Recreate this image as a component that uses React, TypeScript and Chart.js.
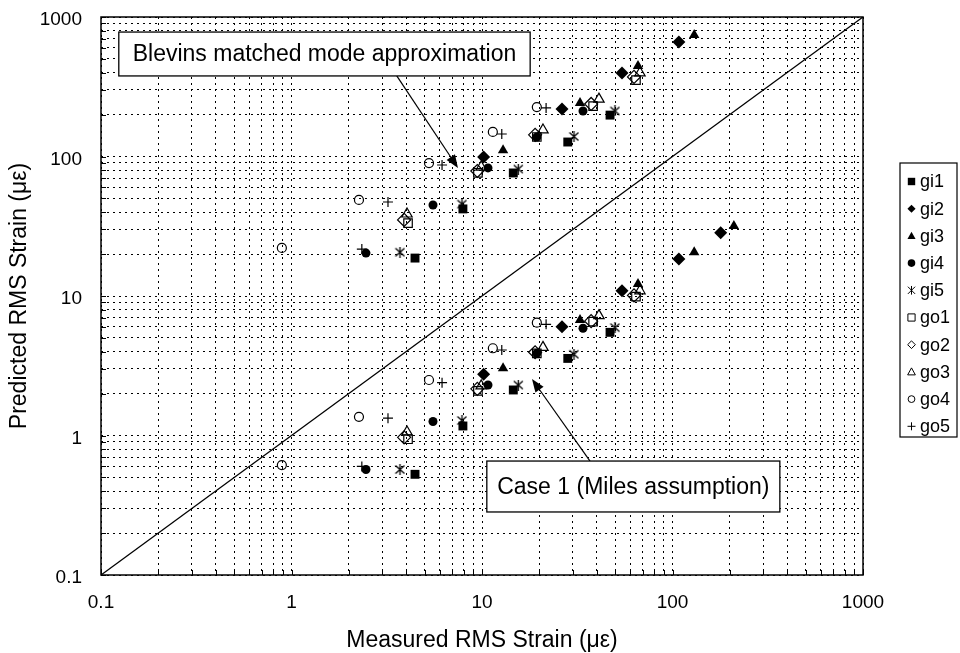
import React, { useEffect, useRef } from 'react';
import { Chart, registerables } from 'chart.js';

Chart.register(...registerables);

const FONT = 'Arial, "Liberation Sans", Helvetica, sans-serif';

// ---------- data ----------
const seriesNames = ['gi1', 'gi2', 'gi3', 'gi4', 'gi5', 'go1', 'go2', 'go3', 'go4', 'go5'];

const gi1Measured = [4.45, 7.94, 14.6, 28.2, 47.0];
const gi1Blevins = [18.7, 42.1, 76.2, 127, 198];
const gi1Miles = [0.527, 1.17, 2.12, 3.57, 5.49];

const gi2Measured = [10.2, 26.3, 54.3, 108, 179];
const gi2Blevins = [99.1, 219, 397, 662, null];
const gi2Miles = [2.75, 6.03, 10.9, 18.4, 28.4];

const gi3Measured = [12.9, 32.7, 65.9, 130, 210];
const gi3Blevins = [111, 242, 446, 743, null];
const gi3Miles = [3.03, 6.73, 12.2, 20.6, 31.8];

const gi4Measured = [2.46, 5.53, 10.75, 19.4, 33.9];
const gi4Blevins = [20.3, 44.9, 82.8, 138, 212];
const gi4Miles = [0.57, 1.26, 2.3, 3.88, 5.87];

const gi5Measured = [3.71, 7.85, 15.5, 30.4, 49.9];
const gi5Blevins = [20.6, 45.6, 81.3, 139, 212];
const gi5Miles = [0.57, 1.28, 2.3, 3.82, 5.93];

const go1Measured = [4.09, 9.52, 19.4, 38.3, 64.3];
const go1Blevins = [33.3, 76.2, 138, 230, 353];
const go1Miles = [0.94, 2.09, 3.88, 6.55, 9.89];

const go2Measured = [3.9, 9.45, 19.0, 37.4, 62.8];
const go2Blevins = [35.1, 78.7, 143, 238, 372];
const go2Miles = [0.97, 2.16, 3.95, 6.6, 10.1];

const go3Measured = [4.04, 9.9, 20.9, 41.1, 67.5];
const go3Blevins = [38.7, 84, 155, 258, 397];
const go3Miles = [1.06, 2.27, 4.28, 7.23, 10.9];

const go4Measured = [0.89, 2.26, 5.27, 11.4, 19.4];
const go4Blevins = [22.1, 48.8, 89.7, 150, 226];
const go4Miles = [0.614, 1.36, 2.5, 4.22, 6.44];

const go5Measured = [2.34, 3.21, 6.17, 12.7, 21.7];
const go5Blevins = [21.7, 47.2, 86.9, 145, 223];
const go5Miles = [0.6, 1.33, 2.39, 4.1, 6.27];

const xAxisTitle = 'Measured RMS Strain (με)';
const yAxisTitle = 'Predicted RMS Strain (με)';
const majorTickValues = [0.1, 1, 10, 100, 1000];
const minorMultipliers = [1, 2, 3, 4, 5, 6, 7, 8, 9];
const equalityLine = [0.1, 1000];

const blevinsLabel = 'Blevins matched mode approximation';
const blevinsBox = { x0: 0.124, x1: 17.9, y0: 780, y1: 378 };
const blevinsArrow = { fromX: 3.57, fromY: 378, toX: 7.48, toY: 82.8 };

const milesLabel = 'Case 1 (Miles assumption)';
const milesBox = { x0: 10.6, x1: 366, y0: 0.656, y1: 0.283 };
const milesArrow = { fromX: 36.9, fromY: 0.656, toX: 18.3, toY: 2.54 };

// ---------- helpers ----------
function makeAsterisk(size: number) {
  const c = document.createElement('canvas');
  c.width = size;
  c.height = size;
  const g = c.getContext('2d')!;
  g.strokeStyle = '#000';
  g.lineWidth = 1.3;
  g.beginPath();
  g.moveTo(1, 1.5); g.lineTo(size - 1, size - 1.5);
  g.moveTo(size - 1, 1.5); g.lineTo(1, size - 1.5);
  g.moveTo(size / 2, 0); g.lineTo(size / 2, size);
  g.stroke();
  return c;
}

function drawLegendMarker(ctx: CanvasRenderingContext2D, style: string, filled: boolean, x: number, y: number, r: number) {
  ctx.save();
  ctx.fillStyle = '#000';
  ctx.strokeStyle = '#000';
  ctx.lineWidth = 1;
  ctx.beginPath();
  if (style === 'rect') {
    ctx.rect(x - r, y - r, 2 * r, 2 * r);
  } else if (style === 'rectRot') {
    ctx.moveTo(x, y - r * 1.1); ctx.lineTo(x + r * 1.1, y); ctx.lineTo(x, y + r * 1.1); ctx.lineTo(x - r * 1.1, y); ctx.closePath();
  } else if (style === 'triangle') {
    ctx.moveTo(x, y - r * 1.15); ctx.lineTo(x + r * 1.1, y + r * 0.85); ctx.lineTo(x - r * 1.1, y + r * 0.85); ctx.closePath();
  } else if (style === 'circle') {
    ctx.arc(x, y, r, 0, Math.PI * 2);
  } else if (style === 'asterisk') {
    ctx.moveTo(x - r, y - r); ctx.lineTo(x + r, y + r);
    ctx.moveTo(x + r, y - r); ctx.lineTo(x - r, y + r);
    ctx.moveTo(x, y - r * 1.2); ctx.lineTo(x, y + r * 1.2);
    ctx.stroke(); ctx.restore(); return;
  } else if (style === 'cross') {
    ctx.moveTo(x - r, y); ctx.lineTo(x + r, y);
    ctx.moveTo(x, y - r); ctx.lineTo(x, y + r);
    ctx.stroke(); ctx.restore(); return;
  }
  if (filled) ctx.fill(); else ctx.stroke();
  ctx.restore();
}

function buildTicks() {
  const out: number[] = [];
  for (let i = 0; i < majorTickValues.length - 1; i++) {
    for (const m of minorMultipliers) out.push(parseFloat((majorTickValues[i] * m).toPrecision(4)));
  }
  out.push(majorTickValues[majorTickValues.length - 1]);
  return out;
}

function isMajor(v: number) {
  return majorTickValues.some((m) => Math.abs(m - v) / m < 1e-6);
}

export default function App() {
  const canvasRef = useRef<HTMLCanvasElement | null>(null);

  useEffect(() => {
    const asterisk = makeAsterisk(11);
    const styleTable: { style: any; legendStyle: string; filled: boolean; radius: number; legendR: number }[] = [
      { style: 'rect', legendStyle: 'rect', filled: true, radius: 6.3, legendR: 3.7 },
      { style: 'rectRot', legendStyle: 'rectRot', filled: true, radius: 6.5, legendR: 3.7 },
      { style: 'triangle', legendStyle: 'triangle', filled: true, radius: 6, legendR: 3.7 },
      { style: 'circle', legendStyle: 'circle', filled: true, radius: 4.5, legendR: 3.8 },
      { style: asterisk, legendStyle: 'asterisk', filled: false, radius: 5, legendR: 3.6 },
      { style: 'rect', legendStyle: 'rect', filled: false, radius: 6, legendR: 3.6 },
      { style: 'rectRot', legendStyle: 'rectRot', filled: false, radius: 6.5, legendR: 3.5 },
      { style: 'triangle', legendStyle: 'triangle', filled: false, radius: 6, legendR: 3.5 },
      { style: 'circle', legendStyle: 'circle', filled: false, radius: 4.5, legendR: 3.4 },
      { style: 'cross', legendStyle: 'cross', filled: false, radius: 5, legendR: 4 },
    ];
    const measured = [gi1Measured, gi2Measured, gi3Measured, gi4Measured, gi5Measured, go1Measured, go2Measured, go3Measured, go4Measured, go5Measured];
    const blevins = [gi1Blevins, gi2Blevins, gi3Blevins, gi4Blevins, gi5Blevins, go1Blevins, go2Blevins, go3Blevins, go4Blevins, go5Blevins];
    const miles = [gi1Miles, gi2Miles, gi3Miles, gi4Miles, gi5Miles, go1Miles, go2Miles, go3Miles, go4Miles, go5Miles];

    const datasets: any[] = seriesNames.map((name, i) => {
      const pts: { x: number; y: number }[] = [];
      measured[i].forEach((mx, k) => {
        const b = blevins[i][k];
        if (b != null) pts.push({ x: mx, y: b });
        pts.push({ x: mx, y: miles[i][k] });
      });
      const st = styleTable[i];
      return {
        type: 'scatter',
        label: name,
        data: pts,
        pointStyle: st.style,
        pointRadius: st.radius,
        pointBorderWidth: st.filled ? 0 : 1.2,
        pointBackgroundColor: st.filled ? '#000' : 'rgba(0,0,0,0)',
        pointBorderColor: '#000',
        showLine: false,
      };
    });
    datasets.push({
      type: 'line',
      label: 'y=x',
      data: equalityLine.map((v) => ({ x: v, y: v })),
      borderColor: '#000',
      borderWidth: 1.3,
      pointRadius: 0,
      fill: false,
    });

    const ticksList = buildTicks();

    const framePlugin = {
      id: 'frame',
      afterDatasetsDraw(chart: any) {
        const { ctx, scales } = chart;
        const xs = scales.x, ys = scales.y;
        ctx.save();
        ctx.strokeStyle = '#000';
        ctx.fillStyle = '#000';
        ctx.lineWidth = 1.2;
        const arrow = (a: any) => {
          const x0 = xs.getPixelForValue(a.fromX), y0 = ys.getPixelForValue(a.fromY);
          const x1 = xs.getPixelForValue(a.toX), y1 = ys.getPixelForValue(a.toY);
          const ang = Math.atan2(y1 - y0, x1 - x0);
          const hl = 13, hw = 5;
          ctx.beginPath();
          ctx.moveTo(x0, y0);
          ctx.lineTo(x1 - Math.cos(ang) * hl * 0.8, y1 - Math.sin(ang) * hl * 0.8);
          ctx.stroke();
          ctx.beginPath();
          ctx.moveTo(x1, y1);
          ctx.lineTo(x1 - Math.cos(ang) * hl + Math.sin(ang) * hw, y1 - Math.sin(ang) * hl - Math.cos(ang) * hw);
          ctx.lineTo(x1 - Math.cos(ang) * hl - Math.sin(ang) * hw, y1 - Math.sin(ang) * hl + Math.cos(ang) * hw);
          ctx.closePath();
          ctx.fill();
        };
        arrow(blevinsArrow);
        arrow(milesArrow);
        const box = (b: any, text: string) => {
          const l = xs.getPixelForValue(b.x0), r = xs.getPixelForValue(b.x1);
          const t = ys.getPixelForValue(b.y0), bt = ys.getPixelForValue(b.y1);
          ctx.fillStyle = '#fff';
          ctx.fillRect(l, t, r - l, bt - t);
          ctx.strokeStyle = '#000';
          ctx.lineWidth = 1.3;
          ctx.strokeRect(l, t, r - l, bt - t);
          ctx.fillStyle = '#000';
          ctx.font = `23px ${FONT}`;
          ctx.textAlign = 'center';
          ctx.textBaseline = 'middle';
          ctx.fillText(text, (l + r) / 2, (t + bt) / 2 + 1);
        };
        box(blevinsBox, blevinsLabel);
        box(milesBox, milesLabel);
        ctx.restore();
      },
      afterDraw(chart: any) {
        const { ctx, chartArea: ca, scales } = chart;
        ctx.save();
        ctx.strokeStyle = '#000';
        ctx.lineWidth = 1;
        ctx.beginPath();
        for (const v of ticksList) {
          const px = Math.round(scales.x.getPixelForValue(v)) + 0.5;
          ctx.moveTo(px, ca.bottom); ctx.lineTo(px, ca.bottom - 5);
          const py = Math.round(scales.y.getPixelForValue(v)) + 0.5;
          ctx.moveTo(ca.left, py); ctx.lineTo(ca.left + 5, py);
        }
        ctx.stroke();
        ctx.lineWidth = 1.5;
        ctx.strokeRect(ca.left, ca.top, ca.right - ca.left, ca.bottom - ca.top);

        // legend
        const lx = 900, ly = 163, lw = 57, lh = 274;
        ctx.fillStyle = '#fff';
        ctx.fillRect(lx, ly, lw, lh);
        ctx.lineWidth = 1.2;
        ctx.strokeRect(lx, ly, lw, lh);
        ctx.font = `18px ${FONT}`;
        ctx.textAlign = 'left';
        ctx.textBaseline = 'middle';
        seriesNames.forEach((name, i) => {
          const cy = 181.5 + i * 27.2;
          const st = styleTable[i];
          drawLegendMarker(ctx, st.legendStyle, st.filled, 911.5, cy, st.legendR);
          ctx.fillStyle = '#000';
          ctx.fillText(name, 920, cy + 1);
        });
        ctx.restore();
      },
    };

    const gridOpts = {
      color: '#000',
      lineWidth: 1,
      drawTicks: true,
      tickColor: 'rgba(0,0,0,0)',
    };

    const chart = new Chart(canvasRef.current!, {
      type: 'scatter',
      data: { datasets },
      plugins: [framePlugin],
      options: {
        animation: false,
        responsive: false,
        devicePixelRatio: 1,
        layout: { padding: { top: 17, right: 97, bottom: 0, left: 0 } },
        plugins: { legend: { display: false }, tooltip: { enabled: false } },
        scales: {
          x: {
            type: 'logarithmic',
            min: 0.1,
            max: 1000,
            border: { display: false, dash: [2, 4] },
            grid: { ...gridOpts, tickLength: 13 },
            afterBuildTicks: (axis: any) => { axis.ticks = ticksList.map((v) => ({ value: v })); },
            afterFit: (axis: any) => { axis.height = 78; },
            ticks: {
              autoSkip: false,
              maxRotation: 0,
              padding: 3,
              color: '#000',
              font: { family: FONT, size: 19 },
              callback: (v: any) => (isMajor(Number(v)) ? String(Number(v)) : ''),
            },
            title: {
              display: true,
              text: xAxisTitle,
              color: '#000',
              font: { family: FONT, size: 23 },
              padding: { top: 0, bottom: -1 },
            },
          },
          y: {
            type: 'logarithmic',
            min: 0.1,
            max: 1000,
            border: { display: false, dash: [2, 4] },
            grid: { ...gridOpts, tickLength: 16 },
            afterBuildTicks: (axis: any) => { axis.ticks = ticksList.map((v) => ({ value: v })); },
            afterFit: (axis: any) => { axis.width = 101; },
            ticks: {
              autoSkip: false,
              padding: 3,
              labelOffset: 3,
              color: '#000',
              font: { family: FONT, size: 19 },
              callback: (v: any) => (isMajor(Number(v)) ? String(Number(v)) : ''),
            },
            title: {
              display: true,
              text: yAxisTitle,
              color: '#000',
              font: { family: FONT, size: 23 },
              padding: { top: 6, bottom: 0 },
            },
          },
        },
      } as any,
    });
    return () => chart.destroy();
  }, []);

  return (
    <div style={{ position: 'absolute', left: 0, top: 0, width: 960, height: 653, background: '#fff' }}>
      <canvas ref={canvasRef} width={960} height={653} style={{ width: 960, height: 653, display: 'block' }} />
    </div>
  );
}
